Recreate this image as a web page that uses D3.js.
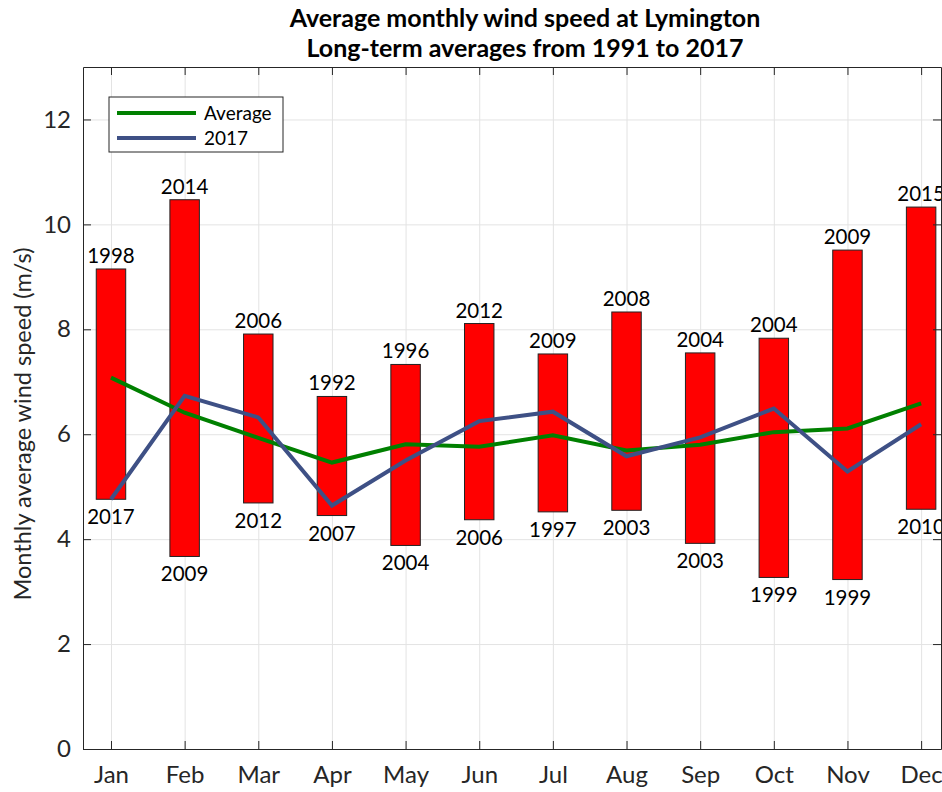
<!DOCTYPE html>
<html>
<head>
<script src="https://d3js.org/d3.v7.min.js"></script>
<style>
  body { margin: 0; background: #fff; }
  text { font-family: Lato, "Open Sans", sans-serif; }
</style>
</head>
<body>
<script>
// data
const months = ["Jan", "Feb", "Mar", "Apr", "May", "Jun", "Jul", "Aug", "Sep", "Oct", "Nov", "Dec"];
const avgSpeed = [7.08, 6.41, 5.93, 5.46, 5.81, 5.76, 5.98, 5.69, 5.80, 6.04, 6.11, 6.59];
const speed2017 = [4.76, 6.73, 6.32, 4.64, 5.50, 6.25, 6.43, 5.58, 5.94, 6.49, 5.29, 6.19];
const maxSpeed = [9.15, 10.47, 7.91, 6.72, 7.33, 8.11, 7.53, 8.33, 7.55, 7.83, 9.51, 10.33];
const maxYear = [1998, 2014, 2006, 1992, 1996, 2012, 2009, 2008, 2004, 2004, 2009, 2015];
const minSpeed = [4.76, 3.67, 4.69, 4.45, 3.88, 4.37, 4.52, 4.55, 3.92, 3.27, 3.23, 4.57];
const minYear = [2017, 2009, 2012, 2007, 2004, 2006, 1997, 2003, 2003, 1999, 1999, 2010];
const yTicks = [0, 2, 4, 6, 8, 10, 12];

const W = 942, H = 792;
const pL = 83, pR = 941, pT = 67, pB = 749;

const svg = d3.select("body").append("svg")
    .attr("width", W)
    .attr("height", H);

const x = d3.scaleLinear().domain([0.62, 12.27]).range([pL, pR]);
const y = d3.scaleLinear().domain([0, 13]).range([pB, pT]);
const idx = months.map((m, i) => i + 1);

// grid
svg.append("g")
    .attr("transform", `translate(0,${pB})`)
    .call(d3.axisBottom(x).tickValues(idx).tickSize(-(pB - pT)).tickFormat(""))
    .call(g => g.select(".domain").remove())
    .call(g => g.selectAll("line").attr("stroke", "#e3e3e3"));
svg.append("g")
    .attr("transform", `translate(${pL},0)`)
    .call(d3.axisLeft(y).tickValues(yTicks).tickSize(-(pR - pL)).tickFormat(""))
    .call(g => g.select(".domain").remove())
    .call(g => g.selectAll("line").attr("stroke", "#e3e3e3"));

// bars from min to max
const bw = x(1.4) - x(1);
svg.append("g").selectAll("rect")
    .data(idx)
    .join("rect")
    .attr("x", d => x(d) - bw / 2)
    .attr("width", bw)
    .attr("y", (d, i) => y(maxSpeed[i]))
    .attr("height", (d, i) => y(minSpeed[i]) - y(maxSpeed[i]))
    .attr("fill", "#ff0000")
    .attr("stroke", "#222")
    .attr("stroke-width", 1);

// year labels
svg.append("g").selectAll("text")
    .data(idx)
    .join("text")
    .attr("x", d => x(d))
    .attr("y", (d, i) => y(maxSpeed[i]) - 6)
    .attr("text-anchor", "middle")
    .attr("font-size", 20.5)
    .attr("fill", "#000")
    .text((d, i) => maxYear[i]);
svg.append("g").selectAll("text")
    .data(idx)
    .join("text")
    .attr("x", d => x(d))
    .attr("y", (d, i) => y(minSpeed[i]) + 25)
    .attr("text-anchor", "middle")
    .attr("font-size", 20.5)
    .attr("fill", "#000")
    .text((d, i) => minYear[i]);

// lines
const line = d3.line().x((d, i) => x(i + 1)).y(d => y(d));
svg.append("path")
    .datum(avgSpeed)
    .attr("d", line)
    .attr("fill", "none")
    .attr("stroke", "#008000")
    .attr("stroke-width", 4);
svg.append("path")
    .datum(speed2017)
    .attr("d", line)
    .attr("fill", "none")
    .attr("stroke", "#3e5085")
    .attr("stroke-width", 4);

// axes with inward ticks
const axisCol = "#262626";
const styleAxis = g => {
    g.select(".domain").attr("stroke", axisCol);
    g.selectAll(".tick line").attr("stroke", axisCol);
    g.selectAll("text").attr("fill", axisCol).attr("font-size", 24)
        .style("font-family", "Lato, 'Open Sans', sans-serif");
};
svg.append("g")
    .attr("transform", `translate(0,${pB})`)
    .call(d3.axisBottom(x).tickValues(idx).tickSizeInner(-8).tickSizeOuter(0).tickPadding(17)
        .tickFormat(d => months[d - 1]))
    .call(styleAxis);
svg.append("g")
    .attr("transform", `translate(0,${pT})`)
    .call(d3.axisTop(x).tickValues(idx).tickSizeInner(-8).tickSizeOuter(0).tickFormat(""))
    .call(styleAxis);
svg.append("g")
    .attr("transform", `translate(${pL},0)`)
    .call(d3.axisLeft(y).tickValues(yTicks).tickSizeInner(-8).tickSizeOuter(0).tickPadding(12))
    .call(styleAxis);
svg.append("g")
    .attr("transform", `translate(${pR},0)`)
    .call(d3.axisRight(y).tickValues(yTicks).tickSizeInner(-8).tickSizeOuter(0).tickFormat(""))
    .call(styleAxis);

// y label
svg.append("text")
    .attr("transform", "translate(31,424) rotate(-90)")
    .attr("text-anchor", "middle")
    .attr("font-size", 23.5)
    .attr("fill", axisCol)
    .text("Monthly average wind speed (m/s)");

// title
const title = ["Average monthly wind speed at Lymington", "Long-term averages from 1991 to 2017"];
svg.append("g").selectAll("text")
    .data(title)
    .join("text")
    .attr("x", 525)
    .attr("y", (d, i) => 27 + i * 30)
    .attr("text-anchor", "middle")
    .attr("font-size", 25)
    .attr("font-weight", "bold")
    .attr("fill", "#000")
    .text(d => d);

// legend
const legend = svg.append("g").attr("transform", "translate(109,97)");
legend.append("rect")
    .attr("width", 174).attr("height", 55)
    .attr("fill", "#fff").attr("stroke", axisCol).attr("stroke-width", 1);
const legItems = [["Average", "#008000"], ["2017", "#3e5085"]];
legItems.forEach((it, i) => {
    legend.append("line")
        .attr("x1", 8).attr("x2", 87)
        .attr("y1", 16 + i * 25).attr("y2", 16 + i * 25)
        .attr("stroke", it[1]).attr("stroke-width", 4);
    legend.append("text")
        .attr("x", 95).attr("y", 16 + i * 25 + 7)
        .attr("font-size", 19)
        .attr("fill", "#000")
        .text(it[0]);
});
</script>
</body>
</html>
